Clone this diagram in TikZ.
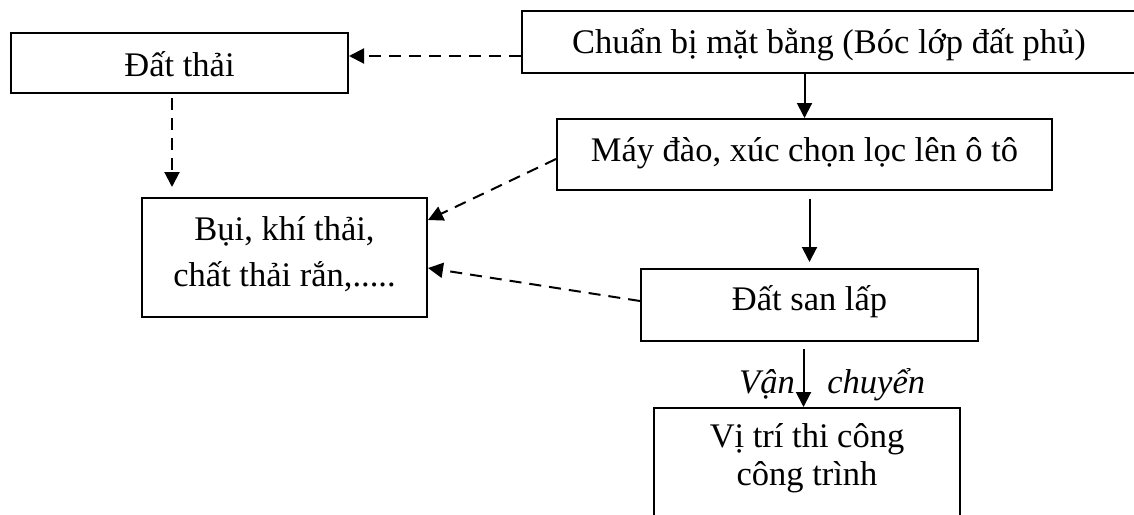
\documentclass[tikz,border=0pt]{standalone}
\usepackage{fontspec}
\setmainfont{Liberation Serif}
\usetikzlibrary{arrows.meta}
\begin{document}
\begin{tikzpicture}[x=1pt,y=-1pt,
  box/.style={draw, line width=2pt, inner sep=0pt, text height=22.5pt, text depth=0pt, font=\fontsize{34.5}{40}\selectfont},
  frame/.style={draw, line width=2pt, inner sep=0pt},
  txt/.style={inner sep=0pt, font=\fontsize{34.5}{40}\selectfont},
  solidarr/.style={line width=2pt, -{Triangle[length=15pt,width=15pt]}},
  dasharr/.style={line width=2pt, dash pattern=on 12pt off 8pt, -{Triangle[length=15pt,width=15pt]}}]
\useasboundingbox (0,0) rectangle (1134,514);
\clip (0,0) rectangle (1134,514);
% boxes
\node[box, minimum width=337pt, minimum height=60pt, text height=26pt] (datthai) at (179.5,63) {Đất thải};
\node[box, minimum width=614pt, minimum height=62pt] (chuan) at (829,42) {Chuẩn bị mặt bằng (Bóc lớp đất phủ)};
\node[box, minimum width=495pt, minimum height=71pt, text depth=8pt] (may) at (804.5,154.5) {Máy đào, xúc chọn lọc lên ô tô};
\node[frame, minimum width=285pt, minimum height=119pt] (bui) at (284.5,257.5) {};
\node[txt, anchor=base] (bui1) at (284.5,240) {Bụi, khí thải,};
\node[txt, anchor=base] (bui2) at (284.5,286) {chất thải rắn,.....};
\node[box, minimum width=337pt, minimum height=72pt, text depth=11pt] (sanlap) at (809.5,305) {Đất san lấp};
\node[frame, minimum width=306pt, minimum height=130pt, anchor=north] (vitri) at (807,407) {};
\node[txt, anchor=base] (vitri1) at (807,447) {Vị trí thi công};
\node[txt, anchor=base] (vitri2) at (807,485) {công trình};
% connectors
\draw[dasharr] ([yshift=-14pt]chuan.west) -- ([yshift=-14pt]chuan.west -| datthai.east);
\draw[solidarr] (may.north |- chuan.south) -- (may.north);
\draw[dasharr, shorten <=4pt, shorten >=10pt] ([xshift=-7.5pt]datthai.south) -- ([xshift=-7.5pt]datthai.south |- bui.north);
\draw[dasharr] ([yshift=-4.5pt]may.west) -- ([yshift=37.5pt]bui.east);
\draw[solidarr, shorten <=8pt, shorten >=6pt] (may.south -| sanlap.north) -- (sanlap.north);
\draw[dasharr] ([yshift=4pt]sanlap.west) -- ([yshift=-10.5pt]bui.east);
\draw[solidarr, shorten <=7pt] ([xshift=-6pt]sanlap.south) -- ([xshift=-6pt]sanlap.south |- vitri.north);
\node[txt, anchor=base west, font=\fontsize{34.5}{40}\selectfont\itshape] (vanchuyen) at (739,393) {Vận\hspace{24pt} chuyển};
\end{tikzpicture}
\end{document}
